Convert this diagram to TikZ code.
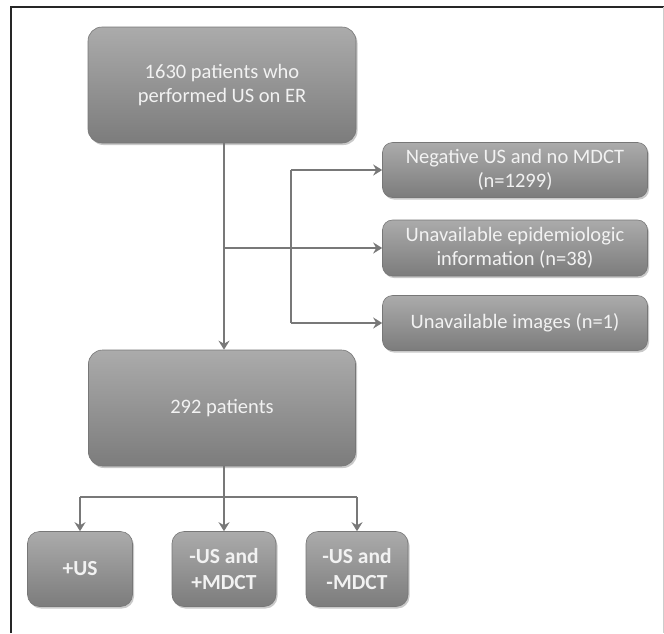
\documentclass[tikz,border=0pt]{standalone}
\usepackage{fontspec}
\setmainfont{Carlito}
\usetikzlibrary{arrows.meta,shadows}
\definecolor{boxtop}{HTML}{ABABAB}
\definecolor{boxbot}{HTML}{7C7C7C}
\definecolor{boxline}{HTML}{777777}
\definecolor{flow}{HTML}{787878}
\begin{document}
\begin{tikzpicture}[x=1pt, y=-1pt,
    box/.style={draw=boxline, line width=.6pt, rounded corners=14pt, top color=boxtop, bottom color=boxbot,
        text=white!95!black, align=center, inner sep=0pt,
        font=\fontsize{20.5}{24}\selectfont,
        drop shadow={shadow xshift=1.5pt, shadow yshift=-2pt, opacity=.35, fill=black!60}},
    smallbox/.style={box, rounded corners=10pt},
    leaf/.style={box, rounded corners=12pt, font=\bfseries\fontsize{21.5}{26}\selectfont},
    flowline/.style={draw=flow, line width=2.8pt},
    flowarrow/.style={flowline, -{Stealth[length=9pt, width=11pt, inset=3pt]}}]

    \useasboundingbox (0,0) rectangle (664,633);
    \fill[white] (0,0) rectangle (664,633);
    \draw[line width=1.6pt, black!85] (11,633) -- (11,7) -- (664,7);
    \draw[line width=.8pt, black!20] (663,7) -- (663,633);

    \node[box, minimum width=268, minimum height=116] (start) at (222,85)
        {1630 patients who\\performed US on ER};
    \node[box, minimum width=267, minimum height=116] (cohort) at (222,408)
        {292 patients};

    \node[smallbox, minimum width=265, minimum height=55] (neg) at (515,170)
        {Negative US and no MDCT\\(n=1299)};
    \node[smallbox, minimum width=265, minimum height=56] (epi) at (515,248)
        {Unavailable epidemiologic\\information (n=38)};
    \node[smallbox, minimum width=265, minimum height=55] (img) at (515,323)
        {Unavailable images (n=1)};

    \node[leaf, minimum width=105, minimum height=75] (pos) at (80,569) {+US};
    \node[leaf, minimum width=104, minimum height=75] (negpos) at (224,569) {-US and\\+MDCT};
    \node[leaf, minimum width=102, minimum height=75] (negneg) at (357,569) {-US and\\-MDCT};

    \coordinate (split) at (224,248);
    \coordinate (excl) at (291,248);
    \coordinate (fork) at (224,497);

    \draw[flowarrow] (start.south -| split) -- (cohort.north -| split);
    \draw[flowarrow] (split) -- (epi.west);
    \draw[flowline] (excl |- neg.west) -- (excl |- img.west);
    \foreach \n in {neg, img}{
        \draw[flowarrow] (excl |- \n.west) -- (\n.west);
    }

    \draw[flowline] (cohort.south -| fork) -- (fork);
    \draw[flowline] (fork -| pos) -- (fork -| negneg);
    \foreach \n in {pos, negpos, negneg}{
        \draw[flowarrow] (fork -| \n) -- (\n.north);
    }

\end{tikzpicture}
\end{document}
